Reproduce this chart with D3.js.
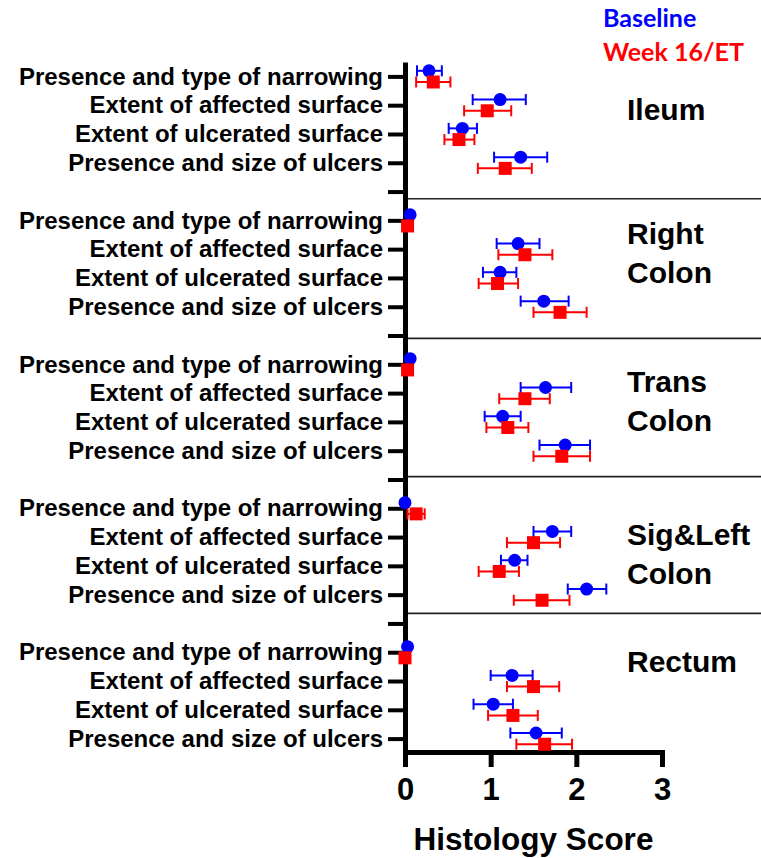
<!DOCTYPE html>
<html>
<head>
<meta charset="utf-8">
<script src="https://cdn.jsdelivr.net/npm/d3@7"></script>
<style>
  html, body { margin: 0; padding: 0; background: #fff; }
  svg { display: block; }
</style>
</head>
<body>
<script>
// Segments of the bowel, each with the same four endoscopic items
const segments = ["Ileum", "Right Colon", "Trans Colon", "Sig&Left Colon", "Rectum"];
const segmentLines = [["Ileum"], ["Right", "Colon"], ["Trans", "Colon"], ["Sig&Left", "Colon"], ["Rectum"]];
const items = [
  "Presence and type of narrowing",
  "Extent of affected surface",
  "Extent of ulcerated surface",
  "Presence and size of ulcers"
];
const seriesNames = ["Baseline", "Week 16/ET"];
const xTicks = [0, 1, 2, 3];

// Mean score and error-bar limits, 4 items per segment, segments in order
const baselineMean = [0.28, 1.11, 0.67, 1.35,  0.06, 1.32, 1.11, 1.62,  0.06, 1.64, 1.14, 1.87,  0.00, 1.72, 1.28, 2.12,  0.03, 1.25, 1.03, 1.53];
const baselineLow  = [0.14, 0.79, 0.51, 1.04,  0.06, 1.07, 0.91, 1.35,  0.06, 1.35, 0.93, 1.57,  0.00, 1.50, 1.12, 1.90,  0.03, 1.00, 0.80, 1.23];
const baselineHigh = [0.43, 1.41, 0.84, 1.66,  0.06, 1.57, 1.30, 1.91,  0.06, 1.94, 1.35, 2.16,  0.00, 1.94, 1.43, 2.35,  0.03, 1.49, 1.26, 1.83];
const week16Mean   = [0.33, 0.96, 0.63, 1.17,  0.03, 1.40, 1.08, 1.81,  0.03, 1.40, 1.20, 1.83,  0.13, 1.50, 1.10, 1.60,  0.00, 1.50, 1.26, 1.63];
const week16Low    = [0.13, 0.69, 0.46, 0.85,  0.03, 1.09, 0.86, 1.50,  0.03, 1.10, 0.95, 1.50,  0.03, 1.19, 0.86, 1.27,  0.00, 1.19, 0.97, 1.30];
const week16High   = [0.53, 1.24, 0.81, 1.48,  0.03, 1.72, 1.32, 2.12,  0.03, 1.69, 1.44, 2.16,  0.23, 1.81, 1.33, 1.92,  0.00, 1.80, 1.55, 1.95];

// Layout
const W = 761, H = 858;
const slotsPerSegment = items.length + 1;          // one empty slot between segments
const nSlots = segments.length * slotsPerSegment - 1;
const separatorSlots = [4.25, 9.1, 13.9, 18.65];   // divider lines between segments
const labelSlots = [1.5, 6.5, 11.65, 16.95, 20.7];  // vertical anchor of each segment name
const seriesOffset = [-5.6, 5.6];
const colors = ["#0000ff", "#ff0000"];

const svg = d3.select("body").append("svg")
  .attr("width", W).attr("height", H);

const x = d3.scaleLinear().domain([0, 3]).range([405, 662]);
const y = d3.scaleLinear().domain([-0.5, nSlots - 0.5]).range([62, 753]);

const slotOf = (seg, item) => seg * slotsPerSegment + item;

// Rows of data
const rows = [];
segments.forEach((s, si) => items.forEach((it, ii) => {
  const k = si * items.length + ii;
  rows.push({
    slot: slotOf(si, ii),
    series: [
      { mean: baselineMean[k], lo: baselineLow[k], hi: baselineHigh[k] },
      { mean: week16Mean[k], lo: week16Low[k], hi: week16High[k] }
    ]
  });
}));

const labelFont = "'Liberation Sans', Arial, Helvetica, sans-serif";

// Segment dividers
svg.append("g").selectAll("line").data(separatorSlots).join("line")
  .attr("x1", x(0)).attr("x2", W)
  .attr("y1", d => y(d)).attr("y2", d => y(d))
  .attr("stroke", "#222").attr("stroke-width", 1.6);

// Y axis: one tick per slot, labels only on item slots
const slotLabel = s => {
  const r = s % slotsPerSegment;
  return r < items.length ? items[r] : "";
};
const yAxis = svg.append("g")
  .attr("transform", `translate(${x(0)},0)`)
  .call(d3.axisLeft(y).tickValues(d3.range(nSlots)).tickSize(17).tickSizeOuter(0)
    .tickPadding(5).tickFormat(slotLabel));
yAxis.select(".domain").attr("stroke", "#000").attr("stroke-width", 5);
yAxis.selectAll(".tick line").attr("stroke", "#000").attr("stroke-width", 4);
yAxis.selectAll(".tick text")
  .attr("fill", "#000")
  .style("font-family", labelFont).style("font-weight", "bold").style("font-size", "24px");

// X axis
const xAxis = svg.append("g")
  .attr("transform", `translate(0,${y(nSlots - 0.5) - 1})`)
  .call(d3.axisBottom(x).tickValues(xTicks).tickSize(15).tickSizeOuter(0).tickPadding(11)
    .tickFormat(d3.format("d")));
xAxis.select(".domain").attr("stroke", "#000").attr("stroke-width", 5)
  .attr("stroke-linecap", "square");
xAxis.selectAll(".tick line").attr("stroke", "#000").attr("stroke-width", 5);
xAxis.selectAll(".tick text")
  .attr("fill", "#000")
  .style("font-family", labelFont).style("font-weight", "bold").style("font-size", "31px");

// Axis title
svg.append("text")
  .attr("x", (x(0) + x(3)) / 2).attr("y", 850)
  .attr("text-anchor", "middle")
  .style("font-family", labelFont).style("font-weight", "bold").style("font-size", "31.5px")
  .text("Histology Score");

// Segment names
segmentLines.forEach((lines, i) => {
  const n = lines.length;
  const t = svg.append("text")
    .attr("x", 627)
    .attr("y", y(labelSlots[i]) - (n - 1) * 19.5)
    .style("font-family", labelFont).style("font-weight", "bold").style("font-size", "30px")
    .attr("fill", "#000");
  lines.forEach((ln, j) => t.append("tspan").attr("x", 627).attr("dy", j === 0 ? 0 : 39).text(ln));
});

// Error bars and markers, baseline first then week 16
seriesNames.forEach((name, s) => {
  const g = svg.append("g").attr("class", "series-" + s);
  const cap = 5.5;
  const pts = rows.map(r => ({ ...r.series[s], cy: y(r.slot) + seriesOffset[s] }));
  const bars = pts.filter(d => d.hi > d.lo);
  g.selectAll("line.whisker").data(bars).join("line").attr("class", "whisker")
    .attr("x1", d => x(d.lo)).attr("x2", d => x(d.hi))
    .attr("y1", d => d.cy).attr("y2", d => d.cy)
    .attr("stroke", colors[s]).attr("stroke-width", 2);
  ["lo", "hi"].forEach(end => {
    g.selectAll("line.cap-" + end).data(bars).join("line").attr("class", "cap-" + end)
      .attr("x1", d => x(d[end])).attr("x2", d => x(d[end]))
      .attr("y1", d => d.cy - cap).attr("y2", d => d.cy + cap)
      .attr("stroke", colors[s]).attr("stroke-width", 2);
  });
  if (s === 0) {
    g.selectAll("circle").data(pts).join("circle")
      .attr("cx", d => x(d.mean)).attr("cy", d => d.cy).attr("r", 6.5)
      .attr("fill", colors[s]);
  } else {
    const side = 13;
    g.selectAll("rect").data(pts).join("rect")
      .attr("x", d => x(d.mean) - side / 2).attr("y", d => d.cy - side / 2)
      .attr("width", side).attr("height", side)
      .attr("fill", colors[s]);
  }
});

// Legend
const legendFont = "Lato, 'Open Sans', sans-serif";
seriesNames.forEach((name, i) => {
  svg.append("text")
    .attr("x", 603).attr("y", 27 + i * 34)
    .attr("fill", colors[i])
    .style("font-family", legendFont).style("font-weight", "bold").style("font-size", "25px")
    .text(name);
});
</script>
</body>
</html>
